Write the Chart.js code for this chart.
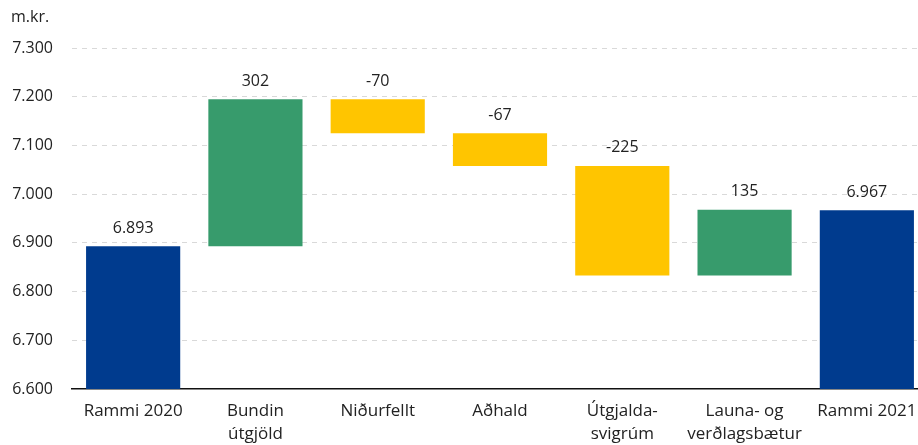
<!DOCTYPE html>
<html>
<head>
<meta charset="utf-8">
<script src="https://cdn.jsdelivr.net/npm/chart.js@4"></script>
<style>
  html, body { margin: 0; padding: 0; background: #fff; overflow: hidden; }
  #wrap { width: 928px; height: 445px; position: relative; }
</style>
</head>
<body>
<div id="wrap"><canvas id="waterfall"></canvas></div>
<script>
const categories = [['Rammi 2020'], ['Bundin', 'útgjöld'], ['Niðurfellt'], ['Aðhald'], ['Útgjalda-', 'svigrúm'], ['Launa- og', 'verðlagsbætur'], ['Rammi 2021']];
// first and last are totals, the rest are changes
const startTotal = 6893;
const changes = [302, -70, -67, -225, 135];
const endTotal = 6967;
const yTicks = [6600, 6700, 6800, 6900, 7000, 7100, 7200, 7300];

const BLUE = '#003b8e', GREEN = '#379b6c', YELLOW = '#ffc500';

// build floating bars from the totals and changes
const ranges = [[yTicks[0], startTotal]];
const labelsAbove = [startTotal];
const colors = [BLUE];
let running = startTotal;
changes.forEach(c => {
    ranges.push([running, running + c]);
    labelsAbove.push(c);
    colors.push(c >= 0 ? GREEN : YELLOW);
    running += c;
});
ranges.push([yTicks[0], endTotal]);
labelsAbove.push(endTotal);
colors.push(BLUE);

function fmt(v){
    const s = Math.abs(v).toString().replace(/\B(?=(\d{3})+(?!\d))/g, '.');
    return (v < 0 ? '-' : '') + s;
}

const FONT = "'Open Sans', sans-serif";

const valueLabels = {
    id: 'valueLabels',
    afterDatasetsDraw(chart){
        const c = chart.ctx;
        const meta = chart.getDatasetMeta(0);
        c.save();
        c.font = '16px ' + FONT;
        c.fillStyle = '#222';
        c.textAlign = 'center';
        c.textBaseline = 'bottom';
        meta.data.forEach((bar, i) => {
            const top = Math.min(bar.y, bar.base);
            c.fillText(fmt(labelsAbove[i]), bar.x, top - 10);
        });
        c.restore();
    }
};

const unitLabel = {
    id: 'unitLabel',
    afterDraw(chart){
        const c = chart.ctx;
        c.save();
        c.font = '16px ' + FONT;
        c.fillStyle = '#222';
        c.textAlign = 'left';
        c.textBaseline = 'middle';
        c.fillText('m.kr.', 11, 17);
        c.restore();
    }
};

new Chart(document.getElementById('waterfall').getContext('2d'), {
    type: 'bar',
    data: {
        labels: categories,
        datasets: [{
            data: ranges,
            backgroundColor: colors,
            borderWidth: 0,
            barPercentage: 0.77,
            categoryPercentage: 1
        }]
    },
    options: {
        responsive: true,
        maintainAspectRatio: false,
        animation: false,
        layout: { padding: { top: 48, right: 0, left: 0, bottom: 0 } },
        plugins: {
            legend: { display: false },
            tooltip: { enabled: false }
        },
        scales: {
            x: {
                grid: { display: false, drawTicks: false },
                border: { display: true, color: '#111', width: 1.5 },
                ticks: {
                    color: '#222',
                    font: { family: FONT, size: 17, lineHeight: 1.32 },
                    padding: 11,
                    maxRotation: 0,
                    autoSkip: false
                },
                afterFit(scale){ scale.height = 56; }
            },
            y: {
                min: yTicks[0],
                max: yTicks[yTicks.length - 1],
                afterBuildTicks(scale){
                    scale.ticks = yTicks.map(v => ({ value: v }));
                },
                afterFit(scale){ scale.width = 72; },
                grid: {
                    color: (ctx) => ctx.tick && ctx.tick.value === yTicks[0] ? 'rgba(0,0,0,0)' : '#d9d9d9',
                    drawTicks: false,
                    lineWidth: 1
                },
                border: { display: false, dash: [5, 5] },
                ticks: {
                    color: '#222',
                    font: { family: FONT, size: 16 },
                    padding: 19,
                    callback: v => fmt(v)
                }
            }
        }
    },
    plugins: [valueLabels, unitLabel]
});
</script>
</body>
</html>
